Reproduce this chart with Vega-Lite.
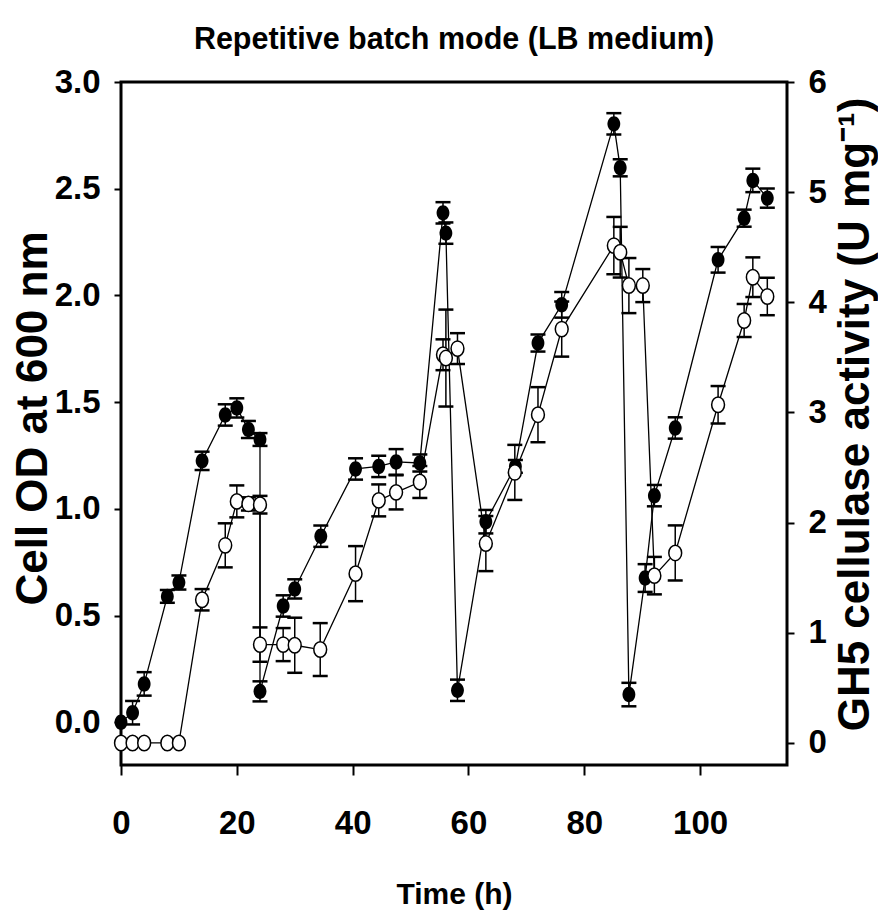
{
  "$schema": "https://vega.github.io/schema/vega-lite/v6.json",
  "width": 666,
  "height": 683,
  "autosize": {"type": "none"},
  "padding": {"left": 121, "top": 82, "right": 91, "bottom": 152},
  "background": "white",
  "config": {
    "view": {"stroke": "black", "strokeWidth": 3},
    "axis": {"grid": false, "domain": false, "labelColor": "black", "tickColor": "black", "titleColor": "black", "labelFontWeight": "bold", "titleFontWeight": "bold", "tickWidth": 2, "labelFlush": false}
  },
  "title": {"text": "Repetitive batch mode (LB medium)", "font": "Liberation Sans, Arial, sans-serif", "fontSize": 30.5, "fontWeight": "bold", "anchor": "middle", "frame": "group", "offset": 11, "color": "black"},
  "data": {"values": [
    {"series": "OD", "idx": 1, "time": 0, "value": 0.0, "err": 0},
    {"series": "OD", "idx": 2, "time": 2, "value": 0.045, "err": 0.055},
    {"series": "OD", "idx": 3, "time": 4, "value": 0.18, "err": 0.055},
    {"series": "OD", "idx": 4, "time": 8, "value": 0.59, "err": 0.03},
    {"series": "OD", "idx": 5, "time": 10, "value": 0.655, "err": 0.033},
    {"series": "OD", "idx": 6, "time": 14, "value": 1.225, "err": 0.043},
    {"series": "OD", "idx": 7, "time": 18, "value": 1.44, "err": 0.05},
    {"series": "OD", "idx": 8, "time": 20, "value": 1.473, "err": 0.045},
    {"series": "OD", "idx": 9, "time": 22, "value": 1.372, "err": 0.04},
    {"series": "OD", "idx": 10, "time": 24, "value": 1.325, "err": 0.03},
    {"series": "OD", "idx": 11, "time": 24, "value": 0.145, "err": 0.047},
    {"series": "OD", "idx": 12, "time": 28, "value": 0.545, "err": 0.05},
    {"series": "OD", "idx": 13, "time": 30, "value": 0.625, "err": 0.045},
    {"series": "OD", "idx": 14, "time": 34.5, "value": 0.872, "err": 0.05},
    {"series": "OD", "idx": 15, "time": 40.5, "value": 1.187, "err": 0.05},
    {"series": "OD", "idx": 16, "time": 44.5, "value": 1.199, "err": 0.05},
    {"series": "OD", "idx": 17, "time": 47.5, "value": 1.22, "err": 0.06},
    {"series": "OD", "idx": 18, "time": 51.6, "value": 1.215, "err": 0.04},
    {"series": "OD", "idx": 19, "time": 55.6, "value": 2.387, "err": 0.05},
    {"series": "OD", "idx": 20, "time": 56.1, "value": 2.292, "err": 0.05},
    {"series": "OD", "idx": 21, "time": 58.1, "value": 0.15, "err": 0.05},
    {"series": "OD", "idx": 22, "time": 63, "value": 0.94, "err": 0.055},
    {"series": "OD", "idx": 23, "time": 68.1, "value": 1.199, "err": 0.03},
    {"series": "OD", "idx": 24, "time": 72, "value": 1.777, "err": 0.04},
    {"series": "OD", "idx": 25, "time": 76.1, "value": 1.956, "err": 0.06},
    {"series": "OD", "idx": 26, "time": 85.1, "value": 2.804, "err": 0.05},
    {"series": "OD", "idx": 27, "time": 86.2, "value": 2.598, "err": 0.04},
    {"series": "OD", "idx": 28, "time": 87.7, "value": 0.13, "err": 0.055},
    {"series": "OD", "idx": 29, "time": 90.5, "value": 0.676, "err": 0.065},
    {"series": "OD", "idx": 30, "time": 92.1, "value": 1.062, "err": 0.05},
    {"series": "OD", "idx": 31, "time": 95.7, "value": 1.379, "err": 0.05},
    {"series": "OD", "idx": 32, "time": 103.1, "value": 2.167, "err": 0.06},
    {"series": "OD", "idx": 33, "time": 107.6, "value": 2.362, "err": 0.04},
    {"series": "OD", "idx": 34, "time": 109.1, "value": 2.539, "err": 0.055},
    {"series": "OD", "idx": 35, "time": 111.6, "value": 2.456, "err": 0.045},
    {"series": "GH5", "idx": 1, "time": 0, "value": 0, "err": 0},
    {"series": "GH5", "idx": 2, "time": 2, "value": 0, "err": 0},
    {"series": "GH5", "idx": 3, "time": 4, "value": 0, "err": 0},
    {"series": "GH5", "idx": 4, "time": 8, "value": 0, "err": 0},
    {"series": "GH5", "idx": 5, "time": 10, "value": 0, "err": 0},
    {"series": "GH5", "idx": 6, "time": 14, "value": 1.3, "err": 0.097},
    {"series": "GH5", "idx": 7, "time": 18, "value": 1.794, "err": 0.2},
    {"series": "GH5", "idx": 8, "time": 20, "value": 2.193, "err": 0.145},
    {"series": "GH5", "idx": 9, "time": 22, "value": 2.17, "err": 0.06},
    {"series": "GH5", "idx": 10, "time": 24, "value": 2.163, "err": 0.08},
    {"series": "GH5", "idx": 11, "time": 24, "value": 0.893, "err": 0.156},
    {"series": "GH5", "idx": 12, "time": 28, "value": 0.893, "err": 0.15},
    {"series": "GH5", "idx": 13, "time": 30, "value": 0.887, "err": 0.25},
    {"series": "GH5", "idx": 14, "time": 34.4, "value": 0.848, "err": 0.24},
    {"series": "GH5", "idx": 15, "time": 40.5, "value": 1.537, "err": 0.25},
    {"series": "GH5", "idx": 16, "time": 44.5, "value": 2.202, "err": 0.145},
    {"series": "GH5", "idx": 17, "time": 47.5, "value": 2.275, "err": 0.155},
    {"series": "GH5", "idx": 18, "time": 51.6, "value": 2.369, "err": 0.145},
    {"series": "GH5", "idx": 19, "time": 55.6, "value": 3.524, "err": 0.14},
    {"series": "GH5", "idx": 20, "time": 56.1, "value": 3.494, "err": 0.44},
    {"series": "GH5", "idx": 21, "time": 58.1, "value": 3.58, "err": 0.14},
    {"series": "GH5", "idx": 22, "time": 63, "value": 1.81, "err": 0.25},
    {"series": "GH5", "idx": 23, "time": 68, "value": 2.456, "err": 0.25},
    {"series": "GH5", "idx": 24, "time": 72, "value": 2.98, "err": 0.25},
    {"series": "GH5", "idx": 25, "time": 76.1, "value": 3.757, "err": 0.25},
    {"series": "GH5", "idx": 26, "time": 85.1, "value": 4.515, "err": 0.26},
    {"series": "GH5", "idx": 27, "time": 86.2, "value": 4.455, "err": 0.23},
    {"series": "GH5", "idx": 28, "time": 87.7, "value": 4.152, "err": 0.25},
    {"series": "GH5", "idx": 29, "time": 90.1, "value": 4.152, "err": 0.15},
    {"series": "GH5", "idx": 30, "time": 92.1, "value": 1.519, "err": 0.17},
    {"series": "GH5", "idx": 31, "time": 95.7, "value": 1.725, "err": 0.25},
    {"series": "GH5", "idx": 32, "time": 103.1, "value": 3.07, "err": 0.17},
    {"series": "GH5", "idx": 33, "time": 107.6, "value": 3.835, "err": 0.15},
    {"series": "GH5", "idx": 34, "time": 109.1, "value": 4.228, "err": 0.18},
    {"series": "GH5", "idx": 35, "time": 111.6, "value": 4.053, "err": 0.17}
  ]},
  "encoding": {
    "x": {"field": "time", "type": "quantitative", "scale": {"domain": [0, 115], "nice": false, "zero": false},
      "axis": {"values": [0, 20, 40, 60, 80, 100], "title": "Time (h)", "labelFont": "Liberation Sans, Arial, sans-serif", "labelFontSize": 33, "tickSize": 10, "labelPadding": 32, "titleFont": "Liberation Sans, Arial, sans-serif", "titleFontSize": 30, "titleBaseline": "alphabetic", "titleY": 138}}
  },
  "layer": [
    {
      "transform": [{"filter": "datum.series == 'OD'"}],
      "mark": {"type": "line", "color": "black", "strokeWidth": 1.3},
      "encoding": {
        "y": {"field": "value", "type": "quantitative", "scale": {"domain": [-0.2, 3], "nice": false, "zero": false},
          "axis": {"orient": "left", "values": [0, 0.5, 1, 1.5, 2, 2.5, 3], "format": ".1f", "title": "Cell OD at 600 nm", "labelFont": "Liberation Sans, Arial, sans-serif", "labelFontSize": 33, "tickSize": 7, "labelPadding": 14, "titleFont": "Liberation Sans, Arial, sans-serif", "titleFontSize": 44, "titleAngle": -90, "titleBaseline": "alphabetic", "titleAlign": "center", "titleX": -75, "titleY": 336}},
        "order": {"field": "idx", "type": "quantitative"}
      }
    },
    {
      "transform": [{"filter": "datum.series == 'GH5'"}],
      "mark": {"type": "line", "color": "black", "strokeWidth": 1.3},
      "encoding": {
        "y": {"field": "value", "type": "quantitative", "scale": {"domain": [-0.2, 6], "nice": false, "zero": false},
          "axis": {"orient": "right", "values": [0, 1, 2, 3, 4, 5, 6], "format": "d", "title": "GH5 cellulase activity (U mg⁻¹)", "labelFont": "Liberation Sans, Arial, sans-serif", "labelFontSize": 33, "tickSize": 7, "labelPadding": 14, "titleFont": "Liberation Sans, Arial, sans-serif", "titleFontSize": 44, "titleAngle": -90, "titleBaseline": "alphabetic", "titleAlign": "center", "titleX": 81, "titleY": 332}},
        "order": {"field": "idx", "type": "quantitative"}
      }
    },
    {
      "transform": [{"filter": "datum.series == 'OD' && datum.err > 0"}],
      "mark": {"type": "errorbar", "color": "black", "opacity": 1, "ticks": {"size": 15, "thickness": 2.5, "color": "black", "opacity": 1}, "rule": {"strokeWidth": 1.5, "color": "black", "opacity": 1}},
      "encoding": {
        "y": {"field": "value", "type": "quantitative", "scale": {"domain": [-0.2, 3], "nice": false, "zero": false}, "axis": null},
        "yError": {"field": "err"}
      }
    },
    {
      "transform": [{"filter": "datum.series == 'GH5' && datum.err > 0"}],
      "mark": {"type": "errorbar", "color": "black", "opacity": 1, "ticks": {"size": 15, "thickness": 2.5, "color": "black", "opacity": 1}, "rule": {"strokeWidth": 1.5, "color": "black", "opacity": 1}},
      "encoding": {
        "y": {"field": "value", "type": "quantitative", "scale": {"domain": [-0.2, 6], "nice": false, "zero": false}, "axis": null},
        "yError": {"field": "err"}
      }
    },
    {
      "transform": [{"filter": "datum.series == 'OD'"}],
      "mark": {"type": "point", "shape": "M0,-1.2A1,1.2 0 1,1 0,1.2A1,1.2 0 1,1 0,-1.2Z", "size": 165, "filled": true, "color": "black", "opacity": 1},
      "encoding": {
        "y": {"field": "value", "type": "quantitative", "scale": {"domain": [-0.2, 3], "nice": false, "zero": false}, "axis": null}
      }
    },
    {
      "transform": [{"filter": "datum.series == 'GH5'"}],
      "mark": {"type": "point", "shape": "M0,-1.2A1,1.2 0 1,1 0,1.2A1,1.2 0 1,1 0,-1.2Z", "size": 165, "filled": true, "fill": "white", "stroke": "black", "strokeWidth": 1.5, "opacity": 1},
      "encoding": {
        "y": {"field": "value", "type": "quantitative", "scale": {"domain": [-0.2, 6], "nice": false, "zero": false}, "axis": null}
      }
    }
  ],
  "resolve": {"scale": {"y": "independent"}}
}
